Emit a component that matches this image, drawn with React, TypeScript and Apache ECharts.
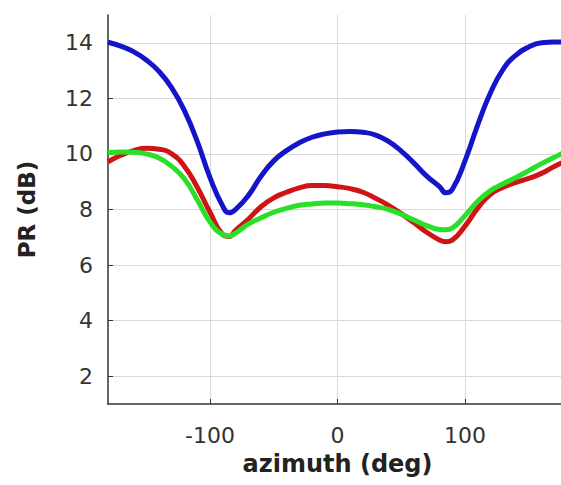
import React, { useEffect, useRef } from "react";
import * as echarts from "echarts";

// Azimuth samples (deg) shared by all three curves
const azimuth = [-180, -170, -160, -150, -140, -130, -120, -110, -100, -90, -85, -80, -70, -60, -50, -40, -30, -20, -10, 0, 10, 20, 30, 40, 50, 60, 70, 80, 85, 90, 100, 110, 120, 130, 140, 150, 160, 170, 180];

// PR (dB) per curve
const blueDb = [14.02, 13.88, 13.68, 13.38, 12.97, 12.38, 11.55, 10.45, 9.15, 8.12, 7.88, 8.0, 8.5, 9.2, 9.75, 10.12, 10.4, 10.6, 10.72, 10.79, 10.81, 10.78, 10.68, 10.45, 10.1, 9.67, 9.2, 8.82, 8.6, 8.72, 9.75, 11.05, 12.2, 13.05, 13.56, 13.85, 14.0, 14.03, 14.03];
const redDb = [9.72, 9.95, 10.12, 10.2, 10.17, 10.0, 9.55, 8.8, 7.9, 7.1, 7.03, 7.25, 7.65, 8.1, 8.42, 8.62, 8.78, 8.86, 8.86, 8.82, 8.75, 8.62, 8.4, 8.15, 7.85, 7.52, 7.18, 6.9, 6.84, 6.9, 7.4, 8.05, 8.55, 8.8, 8.98, 9.12, 9.3, 9.55, 9.75];
const greenDb = [10.05, 10.07, 10.06, 10.0, 9.85, 9.55, 9.1, 8.35, 7.55, 7.1, 7.05, 7.15, 7.47, 7.7, 7.9, 8.04, 8.15, 8.2, 8.23, 8.23, 8.21, 8.17, 8.1, 8.0, 7.83, 7.62, 7.42, 7.28, 7.27, 7.33, 7.78, 8.3, 8.68, 8.93, 9.15, 9.4, 9.65, 9.88, 10.1];

// Tick positions
const xTicks = [-100, 0, 100];
const yTicks = [2, 4, 6, 8, 10, 12, 14];

const FONT = "DejaVu Sans";

function pairs(ys: number[]) {
  return azimuth.map((x, i) => [x, ys[i]]);
}

export default function App() {
  const ref = useRef<HTMLDivElement>(null);

  useEffect(() => {
    document.body.style.margin = "0";
    const chart = echarts.init(ref.current!, null, { renderer: "svg" });
    const axisLine = { show: true, onZero: false, lineStyle: { color: "#333", width: 1.5 } };
    const line = (name: string, ys: number[], color: string) => ({
      name,
      type: "line",
      data: pairs(ys),
      smooth: 0.5,
      showSymbol: false,
      lineStyle: { color, width: 5 },
      itemStyle: { color },
    });
    chart.setOption({
      animation: false,
      backgroundColor: "#fff",
      grid: { left: 108, right: -6, top: 15, bottom: 81, containLabel: false, outerBoundsMode: "none" },
      xAxis: {
        type: "value",
        min: -180,
        max: 180,
        name: "azimuth (deg)",
        nameLocation: "middle",
        nameGap: 48,
        nameTextStyle: { fontFamily: FONT, fontSize: 24, fontWeight: "bold", color: "#222" },
        axisLine,
        axisTick: { show: true, inside: true, length: 5, customValues: xTicks, lineStyle: { color: "#333" } },
        axisLabel: { customValues: xTicks, fontFamily: FONT, fontSize: 22, color: "#333", margin: 20 },
        splitLine: { show: true, lineStyle: { color: "#d9d9d9", width: 1 } },
      },
      yAxis: {
        type: "value",
        min: 1,
        max: 15,
        name: "PR (dB)",
        nameLocation: "middle",
        nameGap: 70,
        nameTextStyle: { fontFamily: FONT, fontSize: 23, fontWeight: "bold", color: "#222" },
        axisLine,
        axisTick: { show: true, inside: true, length: 5, customValues: yTicks, lineStyle: { color: "#333" } },
        axisLabel: { customValues: yTicks, fontFamily: FONT, fontSize: 22, color: "#333", margin: 15 },
        splitLine: { show: true, lineStyle: { color: "#d9d9d9", width: 1 } },
      },
      series: [
        line("blue", blueDb, "#1414c8"),
        line("red", redDb, "#d01414"),
        line("green", greenDb, "#28e028"),
      ],
    });
    return () => chart.dispose();
  }, []);

  return <div ref={ref} style={{ width: 561, height: 485 }} />;
}
